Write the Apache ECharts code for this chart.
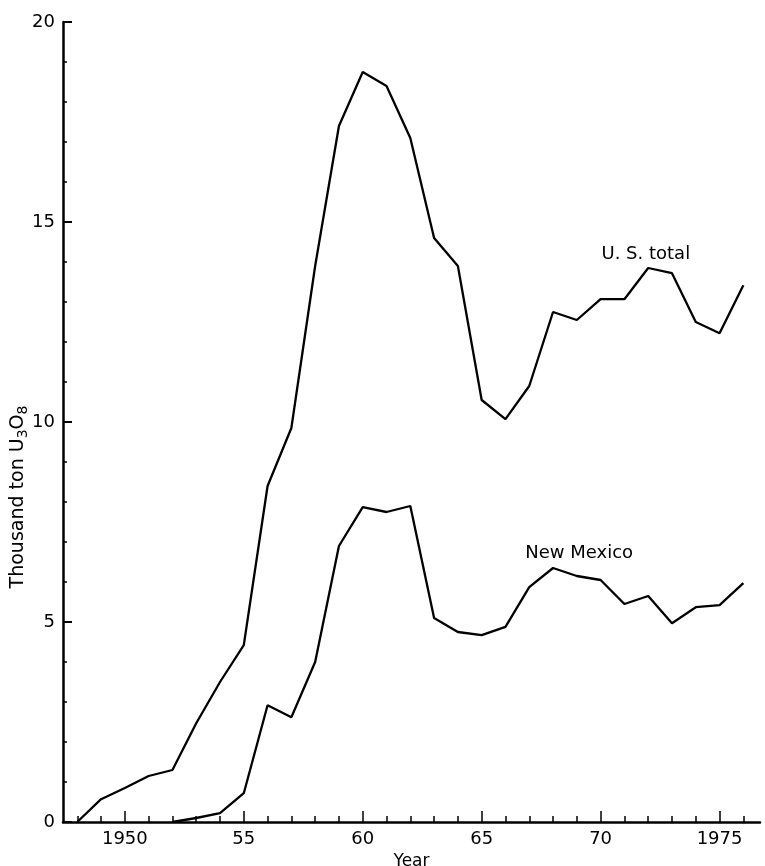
<!DOCTYPE html>
<html>
<head>
<meta charset="utf-8">
<script src="https://cdn.jsdelivr.net/npm/echarts@6/dist/echarts.min.js"></script>
<style>html,body{margin:0;padding:0;background:#fff;}#c{width:765px;height:866px;}</style>
</head>
<body>
<div id="c"></div>
<script>
const years = [1948,1949,1950,1951,1952,1953,1954,1955,1956,1957,1958,1959,1960,1961,1962,1963,1964,1965,1966,1967,1968,1969,1970,1971,1972,1973,1974,1975,1976];
const usTotal = [0,0.57,0.85,1.15,1.3,2.47,3.5,4.42,8.4,9.85,13.9,17.4,18.75,18.4,17.1,14.6,13.9,10.55,10.07,10.9,12.75,12.55,13.07,13.07,13.85,13.72,12.5,12.22,13.42];
const nmYears = [1952,1953,1954,1955,1956,1957,1958,1959,1960,1961,1962,1963,1964,1965,1966,1967,1968,1969,1970,1971,1972,1973,1974,1975,1976];
const newMexico = [0,0.1,0.22,0.72,2.92,2.62,4.0,6.9,7.87,7.75,7.9,5.1,4.75,4.67,4.88,5.87,6.35,6.15,6.05,5.45,5.65,4.97,5.37,5.42,5.97];
const minorXTicks = [1948,1949,1950,1951,1952,1953,1954,1955,1956,1957,1958,1959,1960,1961,1962,1963,1964,1965,1966,1967,1968,1969,1970,1971,1972,1973,1974,1975,1976];
const majorXTicks = [1950,1955,1960,1965,1970,1975];
const xTickLabels = ['1950','55','60','65','70','1975'];
const yTicks = [0,5,10,15,20];
const seriesNames = ['U. S. total','New Mexico'];

const font = 'DejaVu Sans';
const chart = echarts.init(document.getElementById('c'), null, {renderer:'canvas'});
const axisLineStyle = {color:'#000', width:2.5};
const labelMark = (coord, text) => ({
  symbol:'circle', symbolSize:1, itemStyle:{color:'rgba(0,0,0,0)'},
  data:[{coord:coord, value:text}],
  label:{show:true, position:'inside', formatter:text, color:'#000', fontFamily:font, fontSize:18}
});
chart.setOption({
  backgroundColor:'#fff',
  animation:false,
  grid:{left:63, right:5, top:22, bottom:44, containLabel:false, outerBoundsMode:'none'},
  xAxis:[
    {type:'value', min:1947.4, max:1976.7, position:'bottom',
     axisLine:{show:true, onZero:false, lineStyle:axisLineStyle},
     axisTick:{show:true, inside:true, length:6, lineStyle:{color:'#000', width:1.5}, customValues:minorXTicks},
     axisLabel:{show:false}, splitLine:{show:false}},
    {type:'value', min:1947.4, max:1976.7, position:'bottom', offset:0,
     axisLine:{show:false},
     axisTick:{show:true, inside:true, length:11, lineStyle:{color:'#000', width:1.5}, customValues:majorXTicks},
     axisLabel:{show:true, margin:8, color:'#000', fontFamily:font, fontSize:18, customValues:majorXTicks,
       formatter:function(v){const i=majorXTicks.indexOf(Math.round(v));return i>=0?xTickLabels[i]:'';}},
     splitLine:{show:false},
     name:'Year', nameLocation:'middle', nameGap:28,
     nameTextStyle:{color:'#000', fontFamily:font, fontSize:17}}
  ],
  yAxis:{type:'value', min:0, max:20, interval:5,
    axisLine:{show:true, lineStyle:axisLineStyle},
    axisTick:{show:true, inside:true, length:9, lineStyle:{color:'#000', width:2}},
    minorTick:{show:true, splitNumber:5, length:4, lineStyle:{color:'#000', width:1.5}},
    axisLabel:{show:true, margin:8, color:'#000', fontFamily:font, fontSize:18, customValues:yTicks},
    splitLine:{show:false},
    name:'Thousand ton U{s|3}O{s|8}', nameLocation:'middle', nameGap:33, nameRotate:90, nameMoveOverlap:false,
    nameTextStyle:{color:'#000', fontFamily:font, fontSize:19, padding:[0,150,0,0],
      rich:{s:{fontFamily:font, fontSize:14, color:'#000', padding:[10,0,0,0]}}}
  },
  series:[
    {name:seriesNames[0], type:'line', xAxisIndex:0, symbol:'none',
     data:years.map((y,i)=>[y,usTotal[i]]),
     lineStyle:{color:'#000', width:2.3},
     markPoint:labelMark([1971.9,14.2], seriesNames[0])},
    {name:seriesNames[1], type:'line', xAxisIndex:0, symbol:'none',
     data:nmYears.map((y,i)=>[y,newMexico[i]]),
     lineStyle:{color:'#000', width:2.3},
     markPoint:labelMark([1969.1,6.72], seriesNames[1])}
  ]
});
</script>
</body>
</html>
